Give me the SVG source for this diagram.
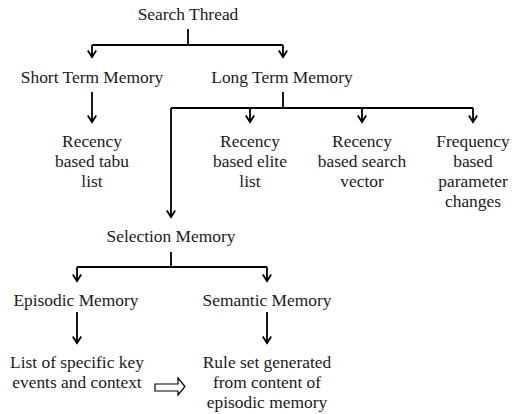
<svg xmlns="http://www.w3.org/2000/svg" width="512" height="414" viewBox="0 0 512 414">
<style>
.t text{font-size:17.4px;fill:#1a1a1a;text-anchor:middle}
.ln{fill:none;stroke:#000;stroke-width:1.8}
</style>
<defs>
<marker id="ah" markerUnits="userSpaceOnUse" markerWidth="14" markerHeight="14" viewBox="-7 -7 14 14" refX="0" refY="0" orient="auto">
<path d="M-6.5,-4.2 L0,0 L-6.5,4.2" fill="none" stroke="#000" stroke-width="1.8"/>
</marker>
</defs>
<rect width="512" height="414" fill="#fff"/>
<g id="connectors">
<path class="ln" d="M188,29 V45"/>
<path class="ln" d="M92,45 H283"/>
<path class="ln" d="M92,45 V57" marker-end="url(#ah)"/>
<path class="ln" d="M283,45 V57" marker-end="url(#ah)"/>
<path class="ln" d="M92,92 V122" marker-end="url(#ah)"/>
<path class="ln" d="M283,92 V108"/>
<path class="ln" d="M171,108 H473"/>
<path class="ln" d="M250,108 V122" marker-end="url(#ah)"/>
<path class="ln" d="M362,108 V122" marker-end="url(#ah)"/>
<path class="ln" d="M473,108 V122" marker-end="url(#ah)"/>
<path class="ln" d="M171,108 V217" marker-end="url(#ah)"/>
<path class="ln" d="M171,252 V267"/>
<path class="ln" d="M77,267 H267"/>
<path class="ln" d="M77,267 V281" marker-end="url(#ah)"/>
<path class="ln" d="M267,267 V281" marker-end="url(#ah)"/>
<path class="ln" d="M77,312 V343" marker-end="url(#ah)"/>
<path class="ln" d="M267,312 V343" marker-end="url(#ah)"/>
<path d="M155,384 H178 V378 L185,386.5 L178,395 V391 H155 Z" fill="#fff" stroke="#000" stroke-width="1.2"/>
</g>
<g class="t" font-family="Liberation Serif, DejaVu Serif, serif">
<g id="search-thread"><text x="188" y="20">Search Thread</text></g>
<g id="short-term"><text x="92" y="83">Short Term Memory</text></g>
<g id="long-term"><text x="282" y="83">Long Term Memory</text></g>
<g id="tabu"><text x="92" y="146.5">Recency</text><text x="92" y="166.5">based tabu</text><text x="92" y="186.5">list</text></g>
<g id="elite"><text x="250" y="146.5">Recency</text><text x="250" y="166.5">based elite</text><text x="250" y="186.5">list</text></g>
<g id="search-vector"><text x="362" y="146.5">Recency</text><text x="362" y="166.5">based search</text><text x="362" y="186.5">vector</text></g>
<g id="frequency"><text x="473" y="146.5">Frequency</text><text x="473" y="166.5">based</text><text x="473" y="186.5">parameter</text><text x="473" y="206.5">changes</text></g>
<g id="selection"><text x="171" y="241.5">Selection Memory</text></g>
<g id="episodic"><text x="76" y="306">Episodic Memory</text></g>
<g id="semantic"><text x="267" y="306">Semantic Memory</text></g>
<g id="key-events"><text x="77" y="368">List of specific key</text><text x="77" y="388">events and context</text></g>
<g id="rule-set"><text x="267" y="368">Rule set generated</text><text x="267" y="388">from content of</text><text x="267" y="407.5">episodic memory</text></g>
</g>
</svg>
